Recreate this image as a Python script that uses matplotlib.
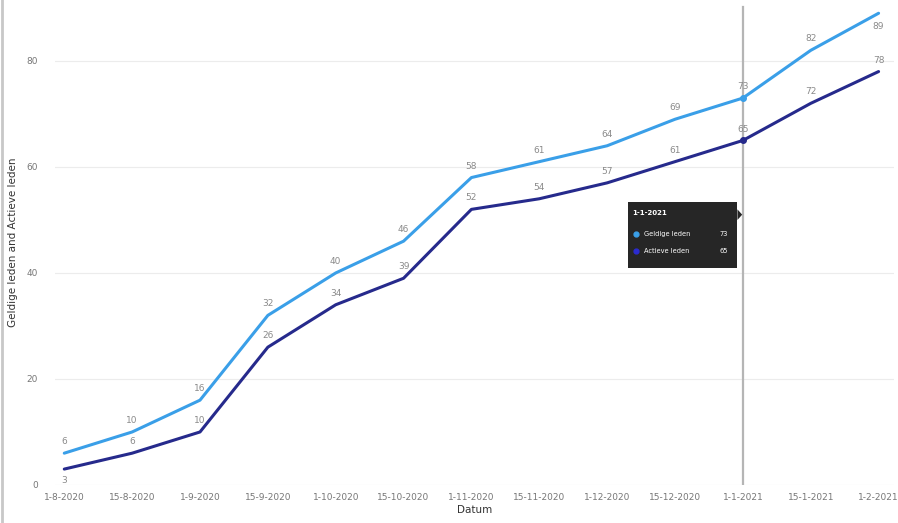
"""
Geldige leden / Actieve leden per datum (Power BI stijl lijndiagram).
"""

import matplotlib
matplotlib.use("Agg")
import matplotlib.pyplot as plt
from matplotlib.patches import FancyBboxPatch, Polygon
from matplotlib.lines import Line2D

plt.rcParams["font.family"] = ["DejaVu Sans"]

datums = ["1-8-2020", "15-8-2020", "1-9-2020", "15-9-2020", "1-10-2020", "15-10-2020",
          "1-11-2020", "15-11-2020", "1-12-2020", "15-12-2020", "1-1-2021", "15-1-2021",
          "1-2-2021"]
geldige_leden = [6, 10, 16, 32, 40, 46, 58, 61, 64, 69, 73, 82, 89]
actieve_leden = [3, 6, 10, 26, 34, 39, 52, 54, 57, 61, 65, 72, 78]
hover_idx = datums.index("1-1-2021")

LIGHT = "#3A9FE8"
DARK = "#262A8C"
GREY = "#8a8a8a"

fig = plt.figure(figsize=(8.98, 5.23), dpi=100)
ax = fig.add_axes([0.061, 0.0727, 0.934, 0.9273])

x = list(range(len(datums)))
ax.plot(x, geldige_leden, color=LIGHT, lw=2.2, solid_capstyle="round", zorder=3)
ax.plot(x, actieve_leden, color=DARK, lw=2.2, solid_capstyle="round", zorder=3)

# gemarkeerd punt (hover)
ax.axvline(hover_idx, color="#b5b5b5", lw=1.6, zorder=2, ymax=0.985)
ax.plot(hover_idx, geldige_leden[hover_idx], "o", color=LIGHT, ms=4, zorder=4)
ax.plot(hover_idx, actieve_leden[hover_idx], "o", color=DARK, ms=4, zorder=4)

# data labels (eerste actieve en laatste geldige label staan onder het punt)
last = len(datums) - 1
for i, v in enumerate(geldige_leden):
    below = i == last
    ax.annotate(str(v), (i, v), xytext=(0, -6 if below else 5), textcoords="offset points",
                ha="center", va="top" if below else "bottom", fontsize=6.5, color=GREY)
for i, v in enumerate(actieve_leden):
    below = i == 0
    ax.annotate(str(v), (i, v), xytext=(0, -5 if below else 5), textcoords="offset points",
                ha="center", va="top" if below else "bottom", fontsize=6.5, color=GREY)

ax.set_xlim(-0.14, 12.22)
ax.set_ylim(0, 91.5)
ax.set_yticks([0, 20, 40, 60, 80])
ax.set_xticks(x)
ax.set_xticklabels(datums)
ax.tick_params(axis="both", length=0, labelsize=6.5, labelcolor="#777777")
ax.tick_params(axis="y", pad=12)
ax.tick_params(axis="x", pad=6)
ax.grid(axis="y", color="#ececec", lw=0.8)
ax.set_axisbelow(True)
for s in ax.spines.values():
    s.set_visible(False)

ax.set_xlabel("Datum", fontsize=7.5, color="#333333", labelpad=2)
ax.set_ylabel("Geldige leden and Actieve leden", fontsize=7.5, color="#333333", labelpad=6)

# tooltip
tx0, tx1 = 8.3, 9.92
ty0, ty1 = 40.9, 53.3
box = FancyBboxPatch((tx0, ty0), tx1 - tx0, ty1 - ty0,
                     boxstyle="square,pad=0", fc="#262626", ec="none", zorder=6)
ax.add_patch(box)
ax.add_patch(Polygon([(tx1, 52.0), (tx1 + 0.07, 51.0), (tx1, 50.0)],
                     closed=True, fc="#262626", ec="none", zorder=6))
ax.text(tx0 + 0.07, 51.3, "1-1-2021", color="white", fontsize=5, fontweight="bold",
        va="center", ha="left", zorder=7)
ax.plot(tx0 + 0.13, 47.3, "o", color=LIGHT, ms=3.5, zorder=7)
ax.plot(tx0 + 0.13, 44.2, "o", color="#2b2bd0", ms=3.5, zorder=7)
ax.text(tx0 + 0.25, 47.3, "Geldige leden", color="white", fontsize=4.8, va="center", zorder=7)
ax.text(tx0 + 0.25, 44.2, "Actieve leden", color="white", fontsize=4.8, va="center", zorder=7)
ax.text(tx0 + 1.36, 47.3, str(geldige_leden[hover_idx]), color="white", fontsize=4.8,
        va="center", zorder=7)
ax.text(tx0 + 1.36, 44.2, str(actieve_leden[hover_idx]), color="white", fontsize=4.8,
        va="center", zorder=7)

# linker rand van de visual
fig.add_artist(Line2D([0.002, 0.002], [0, 1], color="#c8c8c8", lw=2, transform=fig.transFigure))

fig.savefig("out.png", dpi=100, facecolor="white")
